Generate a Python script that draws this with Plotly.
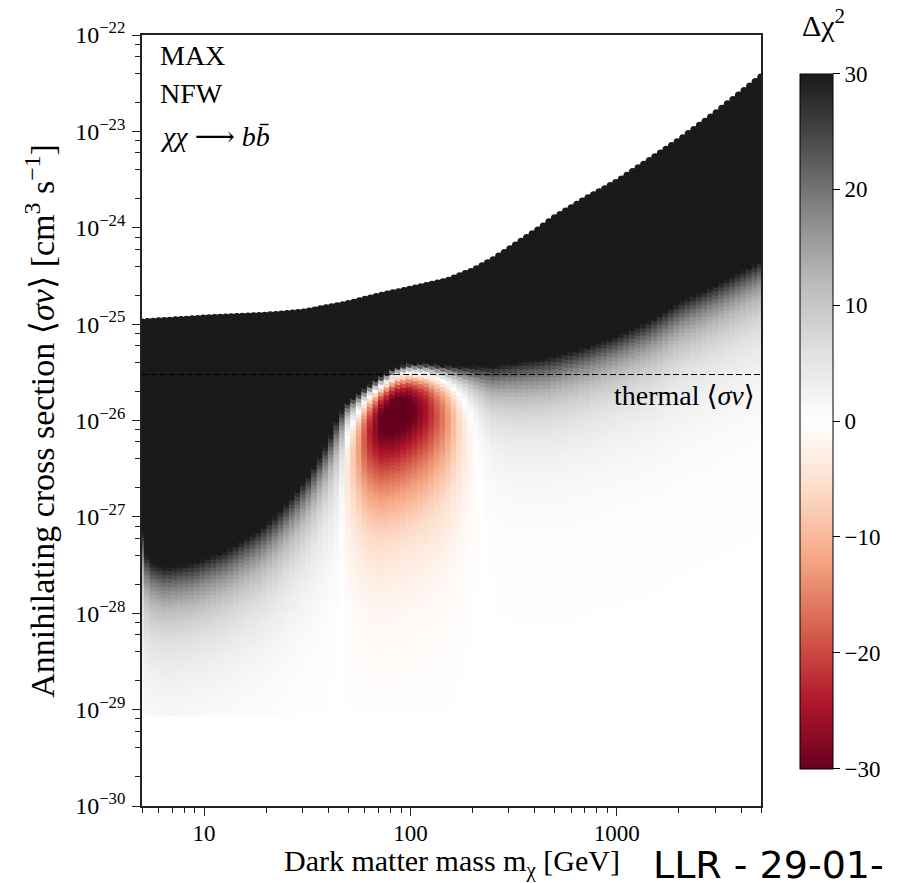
import numpy as np
import plotly.graph_objects as go

# ---- scan window: upper edge of the scanned cross section vs. mass ----
top_mass = [5, 10, 20, 30, 50, 70, 100, 150, 200, 250, 300, 400, 500, 700, 1000, 1500, 2000, 3000, 5000]
top_log_xsec = [-24.98, -24.94, -24.91, -24.88, -24.79, -24.71, -24.64, -24.555, -24.45,
                -24.34, -24.23, -24.05, -23.90, -23.71, -23.53, -23.28, -23.10, -22.82, -22.44]
bottom_log_xsec = -29.03       # lowest scanned cross section
row_step_dec = 0.0405          # spacing of the cross-section rows (decades)

# ---- likelihood profile per mass: where Delta chi^2 reaches +30 and best-fit significance ----
prof_mass = [5, 5.4, 6.5, 9, 13, 19, 23, 28, 32, 36, 41, 44, 46, 48, 50, 55, 62, 72, 85,
             100, 120, 150, 180, 215, 250, 330, 470, 700, 1000, 1450, 2100, 3100, 5000]
log_xsec_dchi30 = [-27.15, -27.45, -27.52, -27.47, -27.34, -27.12, -26.96, -26.74, -26.58,
                   -26.40, -26.17, -26.00, -25.92, -25.86, -25.80, -25.73, -25.64, -25.54,
                   -25.44, -25.40, -25.40, -25.42, -25.43, -25.43, -25.43, -25.39, -25.34,
                   -25.24, -25.12, -24.96, -24.75, -24.58, -24.34]
fit_signif = [-5, -5, -5, -5, -4.5, -4.5, -4, -4, -3.5, -3, -2.5, -2, -1, 0.5, 2, 3.2, 4.6,
              5.5, 5.8, 5.6, 5.0, 3.8, 2.2, 0.5, -1, -2, -2.5, -2.5, -2.5, -3, -3, -3, -3]
signal_power = 0.8

thermal_xsec = 3e-26
x_ticks = [10, 100, 1000]
y_ticks_exp = list(range(-30, -21))
cbar_ticks = [-30, -20, -10, 0, 10, 20, 30]

# ---- build the scan grid: one column of rows per mass ----
n_mass = 112
mass = np.logspace(np.log10(5), np.log10(5000), n_mass)
lm = np.log10(mass)
top = np.interp(lm, np.log10(top_mass), top_log_xsec)
l30 = np.interp(lm, np.log10(prof_mass), log_xsec_dchi30)
nu = np.interp(lm, np.log10(prof_mass), fit_signif)
u30 = nu + np.sqrt(nu ** 2 + 30.0)

px, py, pc = [], [], []
for i in range(n_mass):
    n_rows = int(round((top[i] - bottom_log_xsec) / row_step_dec)) + 1
    ls = np.linspace(bottom_log_xsec, top[i], n_rows)
    u = u30[i] * 10 ** (signal_power * (ls - l30[i]))
    d = np.clip(u ** 2 - 2.0 * u * nu[i], -30, 30)
    px.append(np.full(n_rows, mass[i]))
    py.append(10 ** ls)
    pc.append(d)
px = np.concatenate(px)
py = np.concatenate(py)
pc = np.concatenate(pc)

rdgy = [[0.0, 'rgb(103,0,31)'], [0.1, 'rgb(178,24,43)'], [0.2, 'rgb(214,96,77)'],
        [0.3, 'rgb(244,165,130)'], [0.4, 'rgb(253,219,199)'], [0.5, 'rgb(255,255,255)'],
        [0.6, 'rgb(224,224,224)'], [0.7, 'rgb(186,186,186)'], [0.8, 'rgb(135,135,135)'],
        [0.9, 'rgb(77,77,77)'], [1.0, 'rgb(26,26,26)']]

SERIF = "Liberation Serif, DejaVu Serif, serif"

fig = go.Figure()
fig.add_trace(go.Scatter(
    x=px, y=py, mode='markers', hoverinfo='skip', showlegend=False,
    marker=dict(
        size=7.6, color=pc, colorscale=rdgy, cmin=-30, cmax=30, line=dict(width=0),
        showscale=True,
        colorbar=dict(
            x=1.0635, xanchor='left', xpad=0, ypad=0,
            y=0.4993, yanchor='middle', len=0.9008, lenmode='fraction',
            thickness=33, thicknessmode='pixels',
            outlinewidth=1, outlinecolor='black',
            tickvals=cbar_ticks,
            ticktext=[str(v).replace('-', '\u2212') for v in cbar_ticks],
            ticks='outside', ticklen=7, tickwidth=1.2, tickcolor='black',
            tickfont=dict(family=SERIF, size=23, color='black'),
        ),
    ),
))

# thermal relic cross section
fig.add_trace(go.Scatter(
    x=[5, 5000], y=[thermal_xsec, thermal_xsec], mode='lines', hoverinfo='skip',
    showlegend=False, line=dict(color='black', width=1, dash='6px,3px'),
))

minor_x = [k * 10 ** e for e in range(0, 4) for k in range(2, 10) if 5 <= k * 10 ** e <= 5000]
minor_y = [k * 10.0 ** e for e in range(-30, -22) for k in (2, 4, 6, 8)]

axis_common = dict(
    type='log', showgrid=False, zeroline=False, showline=True, mirror=True,
    linecolor='#222', linewidth=1.6, ticks='outside', ticklen=8, tickwidth=1.3,
    tickcolor='#222',
)

fig.update_xaxes(
    range=[np.log10(5), np.log10(5000)],
    tickvals=x_ticks, ticktext=[str(v) for v in x_ticks],
    minor=dict(tickvals=minor_x, ticks='outside', ticklen=5, tickwidth=1, tickcolor='#222'),
    tickfont=dict(family=SERIF, size=23, color='black'),
    ticklabelstandoff=-2,
    **axis_common,
)
fig.update_yaxes(
    range=[-30, -22],
    tickvals=[10.0 ** e for e in y_ticks_exp],
    ticktext=['10<sup>\u2212%d</sup>' % (-e) for e in y_ticks_exp],
    minor=dict(tickvals=minor_y, ticks='outside', ticklen=5, tickwidth=1, tickcolor='#222'),
    tickfont=dict(family=SERIF, size=24, color='black'),
    ticklabelstandoff=2,
    **axis_common,
)

annotations = [
    dict(text='MAX', x=0.026, y=0.9734, xanchor='left', yanchor='middle', size=28),
    dict(text='NFW', x=0.026, y=0.9242, xanchor='left', yanchor='middle', size=28),
    dict(text='<i>\u03c7\u03c7</i> \u27f6 <i>bb\u0304</i>', x=0.026, y=0.8684,
         xanchor='left', yanchor='middle', size=28),
    dict(text='thermal \u27e8<i>\u03c3v</i>\u27e9', x=0.994, y=0.533,
         xanchor='right', yanchor='middle', size=28),
    dict(text='Dark matter mass m<sub>\u03c7</sub> [GeV]', x=0.5, y=-0.0738,
         xanchor='center', yanchor='middle', size=30),
    dict(text='Annihilating cross section \u27e8<i>\u03c3v</i>\u27e9 [cm<sup>3</sup> s<sup>\u22121</sup>]',
         x=-0.166, y=0.5, xanchor='center', yanchor='middle', size=34, textangle=-90),
    dict(text='\u0394\u03c7<sup>2</sup>', x=1.1007, y=1.016, xanchor='center',
         yanchor='middle', size=30),
]
ann_objs = []
for a in annotations:
    size = a.pop('size')
    ann_objs.append(dict(xref='paper', yref='paper', showarrow=False,
                         font=dict(family=SERIF, size=size, color='black'), **a))
ann_objs.append(dict(text='LLR - 29-01-', xref='paper', yref='paper', x=0.822, y=-0.0765,
                     xanchor='left', yanchor='middle', showarrow=False,
                     font=dict(family='DejaVu Sans, sans-serif', size=38, color='black')))

fig.update_layout(
    width=900, height=883,
    margin=dict(l=142, r=139, t=35, b=77),
    paper_bgcolor='white', plot_bgcolor='white',
    annotations=ann_objs,
)

fig.write_html("out.html")
